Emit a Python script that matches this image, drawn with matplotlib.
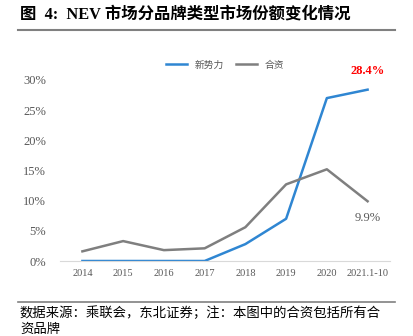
import matplotlib
matplotlib.use("Agg")
import matplotlib.pyplot as plt
from matplotlib.lines import Line2D

categories = ["2014", "2015", "2016", "2017", "2018", "2019", "2020", "2021.1-10"]
new_forces = [0.0, 0.0, 0.0, 0.0, 2.8, 7.0, 27.0, 28.4]
joint_venture = [1.6, 3.3, 1.8, 2.1, 5.6, 12.7, 15.2, 9.9]
yticks = [0, 5, 10, 15, 20, 25, 30]

CJK = ["Noto Sans CJK SC", "DejaVu Sans"]
SERIF = ["Liberation Serif", "Noto Sans CJK SC"]

fig = plt.figure(figsize=(4.14, 3.36), dpi=100)

# title
fig.text(20 / 414, 1 - 15 / 336, "图  4:  NEV 市场分品牌类型市场份额变化情况",
         fontsize=11.8, fontweight="bold", family=["Liberation Serif", "Noto Sans CJK SC"],
         va="center", ha="left", color="#000000")
fig.add_artist(Line2D([18 / 414, 395 / 414], [1 - 30 / 336] * 2, color="#808080", lw=1.5))

ax = fig.add_axes([60 / 414, 1 - 261 / 336, (390 - 60) / 414, (261 - 80) / 336])
x = list(range(len(categories)))
ax.plot(x, new_forces, color="#2F86D2", lw=1.8, label="新势力")
ax.plot(x, joint_venture, color="#7F7F7F", lw=1.8, label="合资")
ax.set_xlim(-0.55, len(categories) - 0.45)
ax.set_ylim(0, 30)
ax.set_yticks(yticks)
ax.set_yticklabels([f"{v}%" for v in yticks], family=SERIF, fontsize=9, color="#595959")
ax.set_xticks(x)
ax.set_xticklabels(categories, family=SERIF, fontsize=7.5, color="#595959")
for s in ["top", "right", "left"]:
    ax.spines[s].set_visible(False)
ax.spines["bottom"].set_color("#D9D9D9")
ax.tick_params(length=0, pad=6)
ax.tick_params(axis="y", pad=10)

ax.annotate(f"{new_forces[-1]}%", (x[-1], new_forces[-1]), xytext=(0, 9),
            textcoords="offset points", ha="center", va="bottom",
            color="#FF0000", fontweight="bold", family=SERIF, fontsize=9)
ax.annotate(f"{joint_venture[-1]}%", (x[-1], joint_venture[-1]), xytext=(0, -8),
            textcoords="offset points", ha="center", va="top",
            color="#595959", family=SERIF, fontsize=9)

leg = ax.legend(loc="upper center", bbox_to_anchor=(0.5, 1.16), ncol=2, frameon=False,
                prop={"family": CJK, "size": 7}, handlelength=2.2, columnspacing=1.2,
                labelcolor="#595959")

# footnote
fig.add_artist(Line2D([18 / 414, 395 / 414], [1 - 302 / 336] * 2, color="#808080", lw=1.2))
fig.text(20 / 414, 1 - 313 / 336, "数据来源：乘联会，东北证券；注：本图中的合资包括所有合",
         fontsize=9.6, family=CJK, va="center", ha="left", color="#000000")
fig.text(20 / 414, 1 - 329 / 336, "资品牌",
         fontsize=9.6, family=CJK, va="center", ha="left", color="#000000")

fig.savefig("out.png", dpi=100)
